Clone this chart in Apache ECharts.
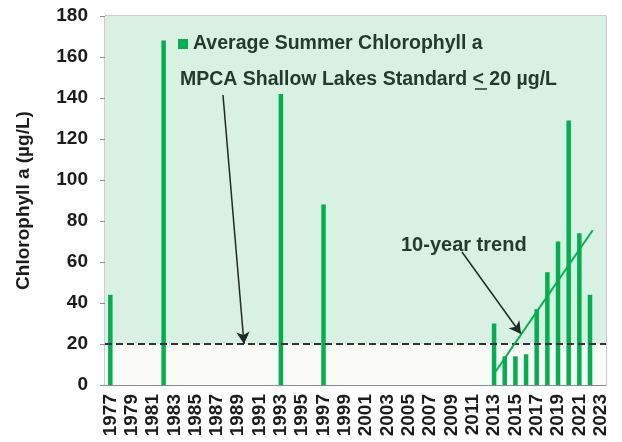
<!DOCTYPE html>
<html>
<head>
<meta charset="utf-8">
<script src="https://cdn.jsdelivr.net/npm/echarts@6/dist/echarts.min.js"></script>
<style>
  html, body { margin: 0; padding: 0; background: #fff; }
  #chart { width: 622px; height: 442px; }
</style>
</head>
<body>
<div id="chart"></div>
<script>
// years 1977..2023
const years = []
for (let y = 1977; y <= 2023; y++) years.push(String(y))

// average summer chlorophyll a (ug/L), only sampled years
const sampledYears = ['1977', '1982', '1993', '1997', '2013', '2014', '2015', '2016', '2017', '2018', '2019', '2020', '2021', '2022']
const chlValues = [44, 168, 142, 88, 30, 14, 14, 15, 37, 55, 70, 129, 74, 44]

// 10-year trend endpoints [category position, value]
const trendLine = [[36.5, 5.5], [45.75, 75.5]]

const standard = 20
const yTicks = [0, 180, 20] // min, max, interval

const font = "'Liberation Sans', Arial, sans-serif"
const dark = '#233a2c'
const green = '#00b050'

const barData = years.map(y => {
  const i = sampledYears.indexOf(y)
  return i < 0 ? null : chlValues[i]
})

const chart = echarts.init(document.getElementById('chart'))
chart.setOption({
  animation: false,
  textStyle: { fontFamily: font },
  grid: {
    left: 105, right: 16, top: 16, bottom: 57,
    show: true, borderColor: '#9a9a9a', borderWidth: 1
  },
  legend: {
    data: ['Average Summer Chlorophyll a'],
    left: 173, top: 29,
    icon: 'rect', itemWidth: 10, itemHeight: 10,
    textStyle: { fontSize: 19.5, fontWeight: 'bold', color: dark, fontFamily: font }
  },
  xAxis: [{
    type: 'category',
    data: years,
    axisLine: { lineStyle: { color: '#8c8c8c' } },
    axisTick: { interval: 1, length: 5, lineStyle: { color: '#8c8c8c' } },
    axisLabel: {
      interval: 1, rotate: 90, margin: 9,
      fontSize: 19, fontWeight: 'bold', color: '#1c1c1c', fontFamily: font
    },
    splitLine: { show: false }
  }, {
    type: 'value', min: 0, max: years.length, show: false
  }],
  yAxis: {
    type: 'value',
    min: yTicks[0], max: yTicks[1], interval: yTicks[2],
    name: 'Chlorophyll a (µg/L)',
    nameLocation: 'middle',
    nameGap: 72,
    nameTextStyle: { fontSize: 19, fontWeight: 'bold', color: '#1c1c1c', fontFamily: font },
    axisLine: { show: true, lineStyle: { color: '#8c8c8c' } },
    axisTick: { show: true, length: 5, lineStyle: { color: '#8c8c8c' } },
    axisLabel: { fontSize: 19, fontWeight: 'bold', color: '#1c1c1c', margin: 17, fontFamily: font },
    splitLine: { lineStyle: { color: '#9a9a9a', type: [3, 3], width: 1 } }
  },
  series: [{
    // background bands
    type: 'line',
    data: [],
    silent: true,
    z: 0,
    markArea: {
      silent: true,
      data: [
        [{ yAxis: 0, itemStyle: { color: '#fafaf5' } }, { yAxis: standard }],
        [{ yAxis: standard, itemStyle: { color: '#d9f1e3' } }, { yAxis: 180 }]
      ]
    }
  }, {
    name: 'Average Summer Chlorophyll a',
    type: 'bar',
    data: barData,
    barWidth: 4.5,
    itemStyle: { color: green },
    z: 3
  }, {
    // lighter wash over bars below the standard
    type: 'line',
    data: [],
    silent: true,
    z: 4,
    markArea: {
      silent: true,
      data: [[{ yAxis: 0, itemStyle: { color: 'rgba(255,255,255,0.15)' } }, { yAxis: standard }]]
    },
    markLine: {
      silent: true,
      symbol: 'none',
      label: { show: false },
      lineStyle: { color: '#333', type: [7, 4], width: 2 },
      data: [{ yAxis: standard }]
    }
  }, {
    name: 'trend',
    type: 'line',
    xAxisIndex: 1,
    data: trendLine,
    symbol: 'none',
    lineStyle: { color: green, width: 2 },
    z: 5
  }, {
    // annotation arrows
    type: 'line',
    data: [],
    silent: true,
    z: 6,
    markLine: {
      silent: true,
      symbol: ['none', 'arrow'],
      symbolSize: [10, 12],
      label: { show: false },
      lineStyle: { color: '#1e2b24', type: 'solid', width: 1.5 },
      data: [
        [{ x: 223, y: 95 }, { x: 244, y: 344 }],
        [{ x: 462, y: 252 }, { x: 521, y: 334 }]
      ]
    }
  }],
  graphic: [{
    type: 'text',
    x: 180, y: 80,
    style: {
      text: 'MPCA Shallow Lakes Standard < 20 µg/L',
      font: 'bold 19.5px ' + font,
      fill: dark,
      verticalAlign: 'middle'
    },
    z: 10
  }, {
    type: 'line',
    shape: { x1: 475, y1: 89, x2: 487, y2: 89 },
    style: { stroke: dark, lineWidth: 1.5 },
    z: 10
  }, {
    type: 'text',
    x: 401, y: 245,
    style: {
      text: '10-year trend',
      font: 'bold 20px ' + font,
      fill: dark,
      verticalAlign: 'middle'
    },
    z: 10
  }]
})
</script>
</body>
</html>
